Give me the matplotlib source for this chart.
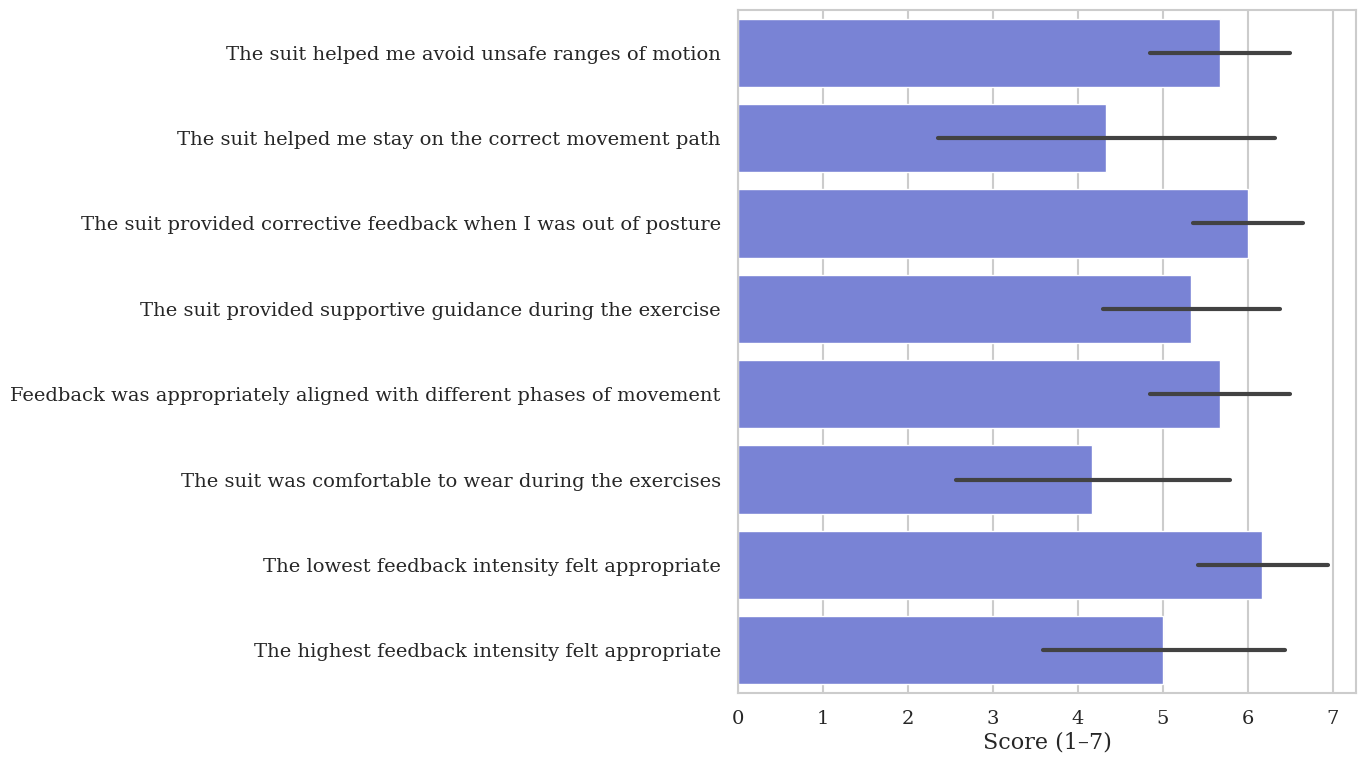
import matplotlib
matplotlib.use("Agg")
import matplotlib.pyplot as plt
import seaborn as sns
import numpy as np

statements = [
    "The suit helped me avoid unsafe ranges of motion",
    "The suit helped me stay on the correct movement path",
    "The suit provided corrective feedback when I was out of posture",
    "The suit provided supportive guidance during the exercise",
    "Feedback was appropriately aligned with different phases of movement",
    "The suit was comfortable to wear during the exercises",
    "The lowest feedback intensity felt appropriate",
    "The highest feedback intensity felt appropriate",
]
means = [5.67, 4.33, 6.00, 5.33, 5.67, 4.17, 6.17, 5.00]
ci_low = [4.85, 2.35, 5.35, 4.29, 4.85, 2.56, 5.41, 3.59]
ci_high = [6.49, 6.32, 6.65, 6.38, 6.49, 5.79, 6.94, 6.44]
xticks = [0, 1, 2, 3, 4, 5, 6, 7]

sns.set_theme(style="whitegrid")
plt.rcParams['font.family'] = ['DejaVu Serif']

fig = plt.figure(figsize=(13.66, 7.66), dpi=100)
ax = fig.add_axes([738/1366, 1 - 693/766, (1356-738)/1366, (693-10)/766])

y = np.arange(len(statements))
ax.barh(y, means, height=0.8, color="#7983d5", zorder=2)
for yi, lo, hi in zip(y, ci_low, ci_high):
    ax.plot([lo, hi], [yi, yi], color="#424242", lw=3, solid_capstyle="round", zorder=3)

ax.set_yticks(y)
ax.set_yticklabels(statements, fontsize=14.0, color="#262626")
ax.set_ylim(len(statements) - 0.5, -0.5)
ax.set_xlim(0, 7.27)
ax.set_xticks(xticks)
ax.set_xticklabels([str(t) for t in xticks], fontsize=14.0, color="#262626")
ax.set_xlabel("Score (1–7)", fontsize=16, color="#262626", labelpad=2.5)
ax.grid(axis="y", visible=False)
ax.grid(axis="x", color="#cccccc", lw=1.5)
ax.set_axisbelow(True)
for s in ax.spines.values():
    s.set_color("#cccccc")
    s.set_linewidth(1.5)
ax.tick_params(axis="y", pad=6.5)
ax.tick_params(axis="x", pad=6.5)

fig.savefig("out.png", dpi=100)
